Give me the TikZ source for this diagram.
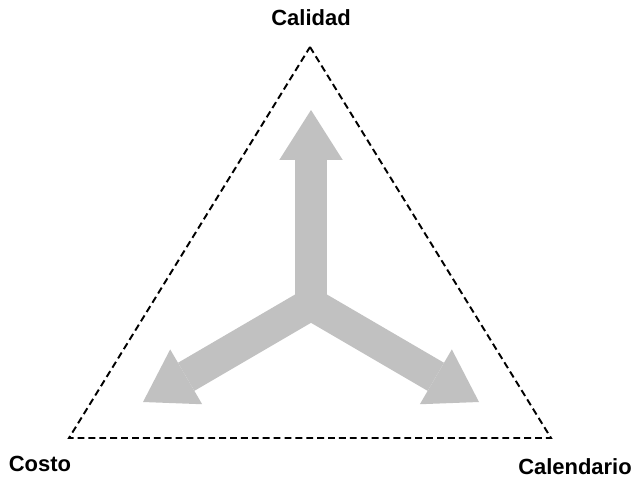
\documentclass[tikz,border=0pt]{standalone}
\usepackage{fontspec}
\setmainfont{Liberation Sans}
\usetikzlibrary{arrows.meta}

\definecolor{gris}{RGB}{193,193,193}

\begin{document}
\begin{tikzpicture}[x=0.02cm, y=-0.02cm,
    etiqueta/.style={font=\fontsize{12.5}{15}\selectfont\bfseries, inner sep=0pt},
    lado/.style={line width=1.1pt, dash pattern=on 3.9pt off 2.3pt, line cap=butt},
    flecha/.style={line width=0.65cm, gris,
      -{Triangle[width=1.27cm, length=1.0cm, line width=0pt]}}]

    \useasboundingbox (0,0) rectangle (634,477);

    % ==================================================
    % triángulo
    % ==================================================

    % vértices
    \coordinate (vCalidad) at (310,47);
    \coordinate (vCosto) at (69,438);
    \coordinate (vCalendario) at (551,438);

    % lados punteados
    \draw[lado] (vCalidad) -- (vCalendario) -- (vCosto) -- cycle;

    % nombres de los vértices
    \node[etiqueta] (calidad) at (311,18) {Calidad};
    \node[etiqueta] (costo) at (40,464) {Costo};
    \node[etiqueta] (calendario) at (575,467) {Calendario};

    % ==================================================
    % flechas desde el centro
    % ==================================================

    \coordinate (centro) at (311,304);
    \coordinate (puntaArriba) at (311,110);
    \coordinate (puntaIzq) at (143,402);
    \coordinate (puntaDer) at (479,402);

    \draw[flecha] (centro) -- (puntaArriba);
    \draw[flecha] (centro) -- (puntaIzq);
    \draw[flecha] (centro) -- (puntaDer);

  \end{tikzpicture}
\end{document}
